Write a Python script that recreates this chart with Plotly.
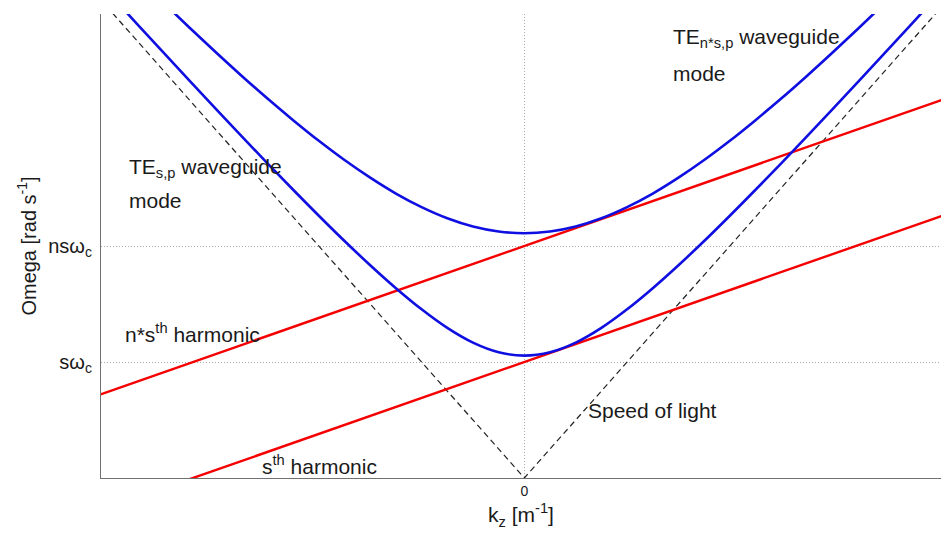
import plotly.graph_objects as go

# Axial wavenumber samples (same units as the light line: omega = c*kz, c = 1)
kz = [-4.25, -4.0, -3.75, -3.5, -3.25, -3.0, -2.75, -2.5, -2.25, -2.0, -1.75, -1.5,
      -1.25, -1.0, -0.75, -0.5, -0.25, 0.0, 0.25, 0.5, 0.75, 1.0, 1.25, 1.5, 1.75,
      2.0, 2.25, 2.5, 2.75, 3.0, 3.25, 3.5, 3.75, 4.0, 4.25]

# TE_{s,p} waveguide mode (cut-off just above s*omega_c)
omega_te_s = [4.379, 4.137, 3.896, 3.656, 3.417, 3.180, 2.945, 2.713, 2.485, 2.261,
              2.043, 1.834, 1.636, 1.454, 1.294, 1.167, 1.084, 1.055, 1.084, 1.167,
              1.294, 1.454, 1.636, 1.834, 2.043, 2.261, 2.485, 2.713, 2.945, 3.180,
              3.417, 3.656, 3.896, 4.137, 4.379]

# TE_{n*s,p} waveguide mode (cut-off just above n*s*omega_c)
omega_te_ns = [4.757, 4.520, 4.303, 4.087, 3.875, 3.668, 3.466, 3.271, 3.085, 2.907,
               2.741, 2.589, 2.452, 2.335, 2.239, 2.168, 2.125, 2.110, 2.125, 2.168,
               2.239, 2.335, 2.452, 2.589, 2.741, 2.907, 3.085, 3.271, 3.466, 3.668,
               3.875, 4.087, 4.303, 4.520, 4.757]

# Beam harmonic lines
harm_k = [-4.2, 4.2]
harm_s = [-0.302, 2.302]
harm_ns = [0.698, 3.302]

# Light line
light_k = [-4.2, 0.0, 4.2]
light_w = [4.2, 0.0, 4.2]

# Tick positions and labels
ytick_vals = [1, 2]
ytick_text = ["sω<sub>c</sub>", "nsω<sub>c</sub>"]
xtick_vals = [0]
xtick_text = ["0"]

FONT = "Liberation Sans, Arial, sans-serif"
INK = "#1a1a1a"
GRID = "#a8a8a8"

fig = go.Figure()
fig.add_trace(go.Scatter(x=light_k, y=light_w, mode="lines",
                         line=dict(color="#222222", width=1.2, dash="6px,4px")))
fig.add_trace(go.Scatter(x=harm_k, y=harm_s, mode="lines",
                         line=dict(color="rgb(245,0,0)", width=2.4)))
fig.add_trace(go.Scatter(x=harm_k, y=harm_ns, mode="lines",
                         line=dict(color="rgb(245,0,0)", width=2.4)))
fig.add_trace(go.Scatter(x=kz, y=omega_te_s, mode="lines", line_shape="spline",
                         line=dict(color="rgb(15,15,225)", width=2.6)))
fig.add_trace(go.Scatter(x=kz, y=omega_te_ns, mode="lines", line_shape="spline",
                         line=dict(color="rgb(15,15,225)", width=2.6)))

labels = [
    (-3.87, 2.67, "TE<sub>s,p</sub> waveguide"),
    (-3.87, 2.39, "mode"),
    (1.43, 3.79, "TE<sub>n*s,p</sub> waveguide"),
    (1.43, 3.49, "mode"),
    (-3.91, 1.25, "n*s<sup>th</sup> harmonic"),
    (-2.57, 0.112, "s<sup>th</sup> harmonic"),
    (0.60, 0.586, "Speed of light"),
]
for x, y, t in labels:
    fig.add_annotation(x=x, y=y, text=t, showarrow=False, xanchor="left",
                       yanchor="middle", font=dict(family=FONT, size=21, color=INK))

fig.update_xaxes(range=[-4.12, 4.055], tickvals=xtick_vals, ticktext=xtick_text,
                 showgrid=True, griddash="1px,2px", gridcolor=GRID, gridwidth=1,
                 zeroline=False, showline=True, linecolor="#707070", linewidth=1.2,
                 ticks="", tickfont=dict(family=FONT, size=14, color=INK),
                 title=dict(text="k<sub>z</sub> [m<sup>-1</sup>]", standoff=9,
                            font=dict(family=FONT, size=21, color=INK)))
fig.update_yaxes(range=[0, 4], tickvals=ytick_vals, ticktext=ytick_text,
                 showgrid=True, griddash="1px,2px", gridcolor=GRID, gridwidth=1,
                 zeroline=False, showline=True, linecolor="#707070", linewidth=1.2,
                 ticks="", ticklabelstandoff=4,
                 tickfont=dict(family=FONT, size=20, color=INK),
                 title=dict(text="Omega [rad s<sup>-1</sup>]", standoff=6,
                            font=dict(family=FONT, size=20, color=INK)))

fig.update_layout(width=941, height=533, showlegend=False,
                  margin=dict(l=101, r=0, t=14, b=55),
                  plot_bgcolor="white", paper_bgcolor="white")

fig.write_html("out.html")
